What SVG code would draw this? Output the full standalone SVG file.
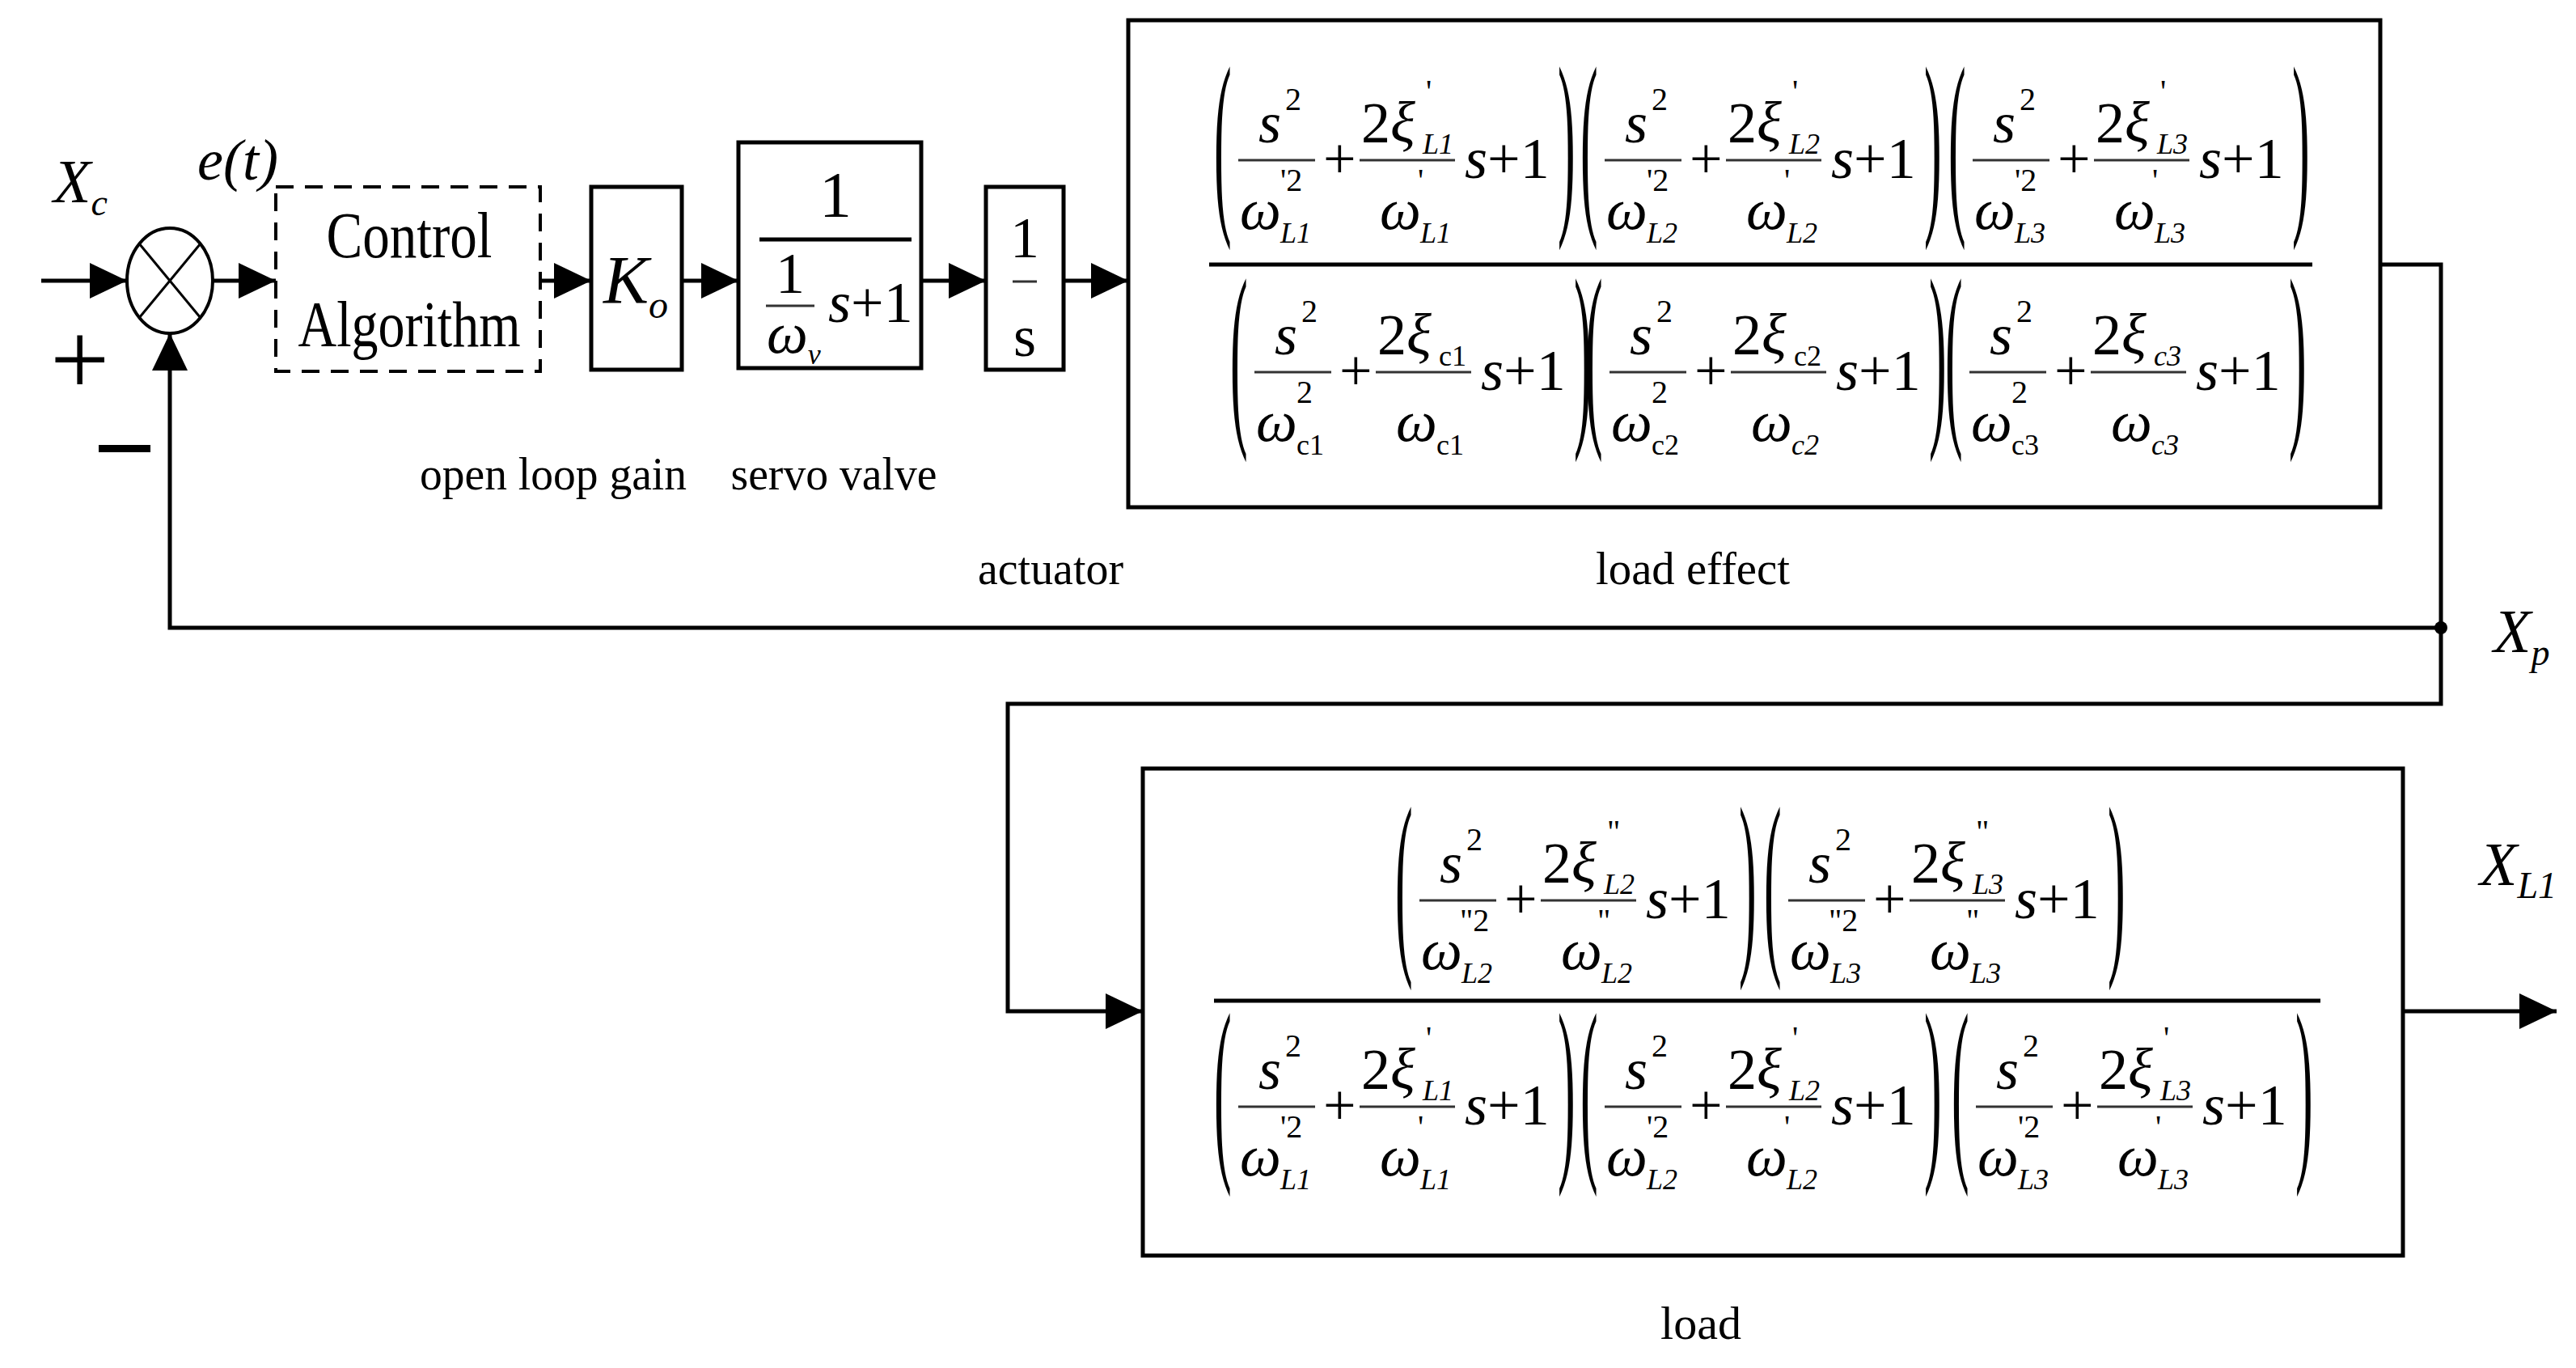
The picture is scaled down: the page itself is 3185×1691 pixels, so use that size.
<svg xmlns="http://www.w3.org/2000/svg" xmlns:xlink="http://www.w3.org/1999/xlink" width="3185" height="1691" viewBox="0 0 3185 1691">
<style>
text{font-family:"Liberation Serif","Times New Roman",serif;fill:#000}
.i{font-style:italic;font-size:72px}
.u{font-size:72px}
.sup{font-size:40px}
.sb{font-size:36px;font-style:italic}
.sbu{font-size:36px}
.lbl{font-size:56px}
.box{fill:#fff;stroke:#000;stroke-width:5}
.ln{fill:none;stroke:#000;stroke-width:5}
.fl{stroke:#333;stroke-width:3}
.big{stroke:#000;stroke-width:5}
</style>
<defs>
<marker id="ah" markerUnits="userSpaceOnUse" markerWidth="48" markerHeight="44" refX="46" refY="22" orient="auto"><path d="M0,0 L46,22 L0,44 Z" fill="#000"/></marker>
<g id="paren"><text transform="scale(0.26,1)" x="0" y="58" style="font-size:250px">(</text></g>
<g id="rparen"><text transform="scale(0.26,1)" x="0" y="58" style="font-size:250px">)</text></g>
</defs>
<rect width="3185" height="1691" fill="#fff"/>

<g id="connectors">
<line class="ln" x1="51" y1="347" x2="157" y2="347" marker-end="url(#ah)"/>
<line class="ln" x1="263" y1="347" x2="341" y2="347" marker-end="url(#ah)"/>
<line class="ln" x1="668" y1="347" x2="731" y2="347" marker-end="url(#ah)"/>
<line class="ln" x1="843" y1="347" x2="913" y2="347" marker-end="url(#ah)"/>
<line class="ln" x1="1139" y1="347" x2="1219" y2="347" marker-end="url(#ah)"/>
<line class="ln" x1="1315" y1="347" x2="1395" y2="347" marker-end="url(#ah)"/>
<polyline class="ln" points="2943,327 3018,327 3018,870 1246,870 1246,1250 1413,1250" marker-end="url(#ah)"/>
<polyline class="ln" points="3018,776 210,776 210,412" marker-end="url(#ah)"/>
<circle cx="3018" cy="776" r="8" fill="#000"/>
<line class="ln" x1="2971" y1="1250" x2="3161" y2="1250" marker-end="url(#ah)"/>
</g>

<g id="sum">
<ellipse cx="210" cy="347" rx="53" ry="65" fill="#fff" stroke="#000" stroke-width="4"/>
<line x1="172" y1="301" x2="248" y2="393" stroke="#000" stroke-width="3"/>
<line x1="248" y1="301" x2="172" y2="393" stroke="#000" stroke-width="3"/>
</g>
<g id="labels-in">
<text class="i" x="66" y="250" style="font-size:76px">X<tspan class="sb" style="font-size:46px" dy="16">c</tspan></text>
<text class="i" x="244" y="222" style="font-size:72px">e(t)</text>
<text x="62" y="488" style="font-size:130px">+</text>
<rect x="122" y="550" width="64" height="9" fill="#000"/>
</g>

<g id="control">
<rect x="341" y="231" width="327" height="228" fill="#fff" stroke="#000" stroke-width="4" stroke-dasharray="22,14"/>
<text x="506" y="318" text-anchor="middle" style="font-size:80px" textLength="205" lengthAdjust="spacingAndGlyphs">Control</text>
<text x="506" y="428" text-anchor="middle" style="font-size:80px" textLength="275" lengthAdjust="spacingAndGlyphs">Algorithm</text>
</g>
<g id="gain">
<rect class="box" x="731" y="231" width="112" height="226"/>
<text class="i" x="746" y="375" style="font-size:84px">K<tspan class="sb" style="font-size:48px" dy="18">o</tspan></text>
</g>
<g id="servo">
<rect class="box" x="913" y="176" width="226" height="279"/>
<text class="u" x="1033" y="268" text-anchor="middle" style="font-size:80px">1</text>
<line class="big" x1="939" y1="296" x2="1127" y2="296"/>
<text class="u" x="977" y="362" text-anchor="middle">1</text>
<line class="fl" x1="947" y1="378" x2="1007" y2="378"/>
<text class="i" x="948" y="436">ω<tspan class="sb" dy="14">v</tspan></text>
<text class="i" x="1024" y="398">s<tspan font-style="normal">+1</tspan></text>
</g>
<g id="integrator">
<rect class="box" x="1219" y="231" width="96" height="226"/>
<text class="u" x="1267" y="318" text-anchor="middle">1</text>
<line class="fl" x1="1252" y1="348" x2="1282" y2="348"/>
<text class="u" x="1267" y="440" text-anchor="middle">s</text>
</g>

<g id="load-effect">
<rect class="box" x="1395" y="25" width="1548" height="602"/>
<line class="big" x1="1495" y1="327" x2="2859" y2="327"/>
<g transform="translate(1501,198)">
<use xlink:href="#paren"/>
<text class="i" x="55" y="-22">s</text><text class="sup" x="88" y="-62">2</text>
<line class="fl" x1="30" y1="0" x2="125" y2="0"/>
<text class="i" x="32" y="85">ω</text><text class="sup" x="82" y="38">'2</text><text class="sb" x="82" y="102">L1</text>
<text class="u" x="135" y="22">+</text>
<text class="u" x="182" y="-22">2<tspan font-style="italic">ξ</tspan></text><text class="sup" x="262" y="-72">'</text><text class="sb" x="258" y="-8">L1</text>
<line class="fl" x1="180" y1="0" x2="298" y2="0"/>
<text class="i" x="205" y="85">ω</text><text class="sup" x="252" y="38">'</text><text class="sb" x="255" y="102">L1</text>
<text class="i" x="310" y="22">s<tspan font-style="normal">+1</tspan></text>
<use xlink:href="#rparen" x="425"/>
</g>
<g transform="translate(1954,198)">
<use xlink:href="#paren"/>
<text class="i" x="55" y="-22">s</text><text class="sup" x="88" y="-62">2</text>
<line class="fl" x1="30" y1="0" x2="125" y2="0"/>
<text class="i" x="32" y="85">ω</text><text class="sup" x="82" y="38">'2</text><text class="sb" x="82" y="102">L2</text>
<text class="u" x="135" y="22">+</text>
<text class="u" x="182" y="-22">2<tspan font-style="italic">ξ</tspan></text><text class="sup" x="262" y="-72">'</text><text class="sb" x="258" y="-8">L2</text>
<line class="fl" x1="180" y1="0" x2="298" y2="0"/>
<text class="i" x="205" y="85">ω</text><text class="sup" x="252" y="38">'</text><text class="sb" x="255" y="102">L2</text>
<text class="i" x="310" y="22">s<tspan font-style="normal">+1</tspan></text>
<use xlink:href="#rparen" x="425"/>
</g>
<g transform="translate(2409,198)">
<use xlink:href="#paren"/>
<text class="i" x="55" y="-22">s</text><text class="sup" x="88" y="-62">2</text>
<line class="fl" x1="30" y1="0" x2="125" y2="0"/>
<text class="i" x="32" y="85">ω</text><text class="sup" x="82" y="38">'2</text><text class="sb" x="82" y="102">L3</text>
<text class="u" x="135" y="22">+</text>
<text class="u" x="182" y="-22">2<tspan font-style="italic">ξ</tspan></text><text class="sup" x="262" y="-72">'</text><text class="sb" x="258" y="-8">L3</text>
<line class="fl" x1="180" y1="0" x2="298" y2="0"/>
<text class="i" x="205" y="85">ω</text><text class="sup" x="252" y="38">'</text><text class="sb" x="255" y="102">L3</text>
<text class="i" x="310" y="22">s<tspan font-style="normal">+1</tspan></text>
<use xlink:href="#rparen" x="425"/>
</g>
<g transform="translate(1521,460)">
<use xlink:href="#paren"/>
<text class="i" x="55" y="-22">s</text><text class="sup" x="88" y="-62">2</text>
<line class="fl" x1="30" y1="0" x2="125" y2="0"/>
<text class="i" x="32" y="85">ω</text><text class="sup" x="82" y="38">2</text><text class="sbu" x="82" y="102">c1</text>
<text class="u" x="135" y="22">+</text>
<text class="u" x="182" y="-22">2<tspan font-style="italic">ξ</tspan></text><text class="sbu" x="258" y="-8">c1</text>
<line class="fl" x1="180" y1="0" x2="298" y2="0"/>
<text class="i" x="205" y="85">ω</text><text class="sbu" x="255" y="102">c1</text>
<text class="i" x="310" y="22">s<tspan font-style="normal">+1</tspan></text>
<use xlink:href="#rparen" x="425"/>
</g>
<g transform="translate(1960,460)">
<use xlink:href="#paren"/>
<text class="i" x="55" y="-22">s</text><text class="sup" x="88" y="-62">2</text>
<line class="fl" x1="30" y1="0" x2="125" y2="0"/>
<text class="i" x="32" y="85">ω</text><text class="sup" x="82" y="38">2</text><text class="sbu" x="82" y="102">c2</text>
<text class="u" x="135" y="22">+</text>
<text class="u" x="182" y="-22">2<tspan font-style="italic">ξ</tspan></text><text class="sbu" x="258" y="-8">c2</text>
<line class="fl" x1="180" y1="0" x2="298" y2="0"/>
<text class="i" x="205" y="85">ω</text><text class="sb" x="255" y="102">c2</text>
<text class="i" x="310" y="22">s<tspan font-style="normal">+1</tspan></text>
<use xlink:href="#rparen" x="425"/>
</g>
<g transform="translate(2405,460)">
<use xlink:href="#paren"/>
<text class="i" x="55" y="-22">s</text><text class="sup" x="88" y="-62">2</text>
<line class="fl" x1="30" y1="0" x2="125" y2="0"/>
<text class="i" x="32" y="85">ω</text><text class="sup" x="82" y="38">2</text><text class="sbu" x="82" y="102">c3</text>
<text class="u" x="135" y="22">+</text>
<text class="u" x="182" y="-22">2<tspan font-style="italic">ξ</tspan></text><text class="sb" x="258" y="-8">c3</text>
<line class="fl" x1="180" y1="0" x2="298" y2="0"/>
<text class="i" x="205" y="85">ω</text><text class="sb" x="255" y="102">c3</text>
<text class="i" x="310" y="22">s<tspan font-style="normal">+1</tspan></text>
<use xlink:href="#rparen" x="425"/>
</g>
</g>

<g id="load">
<rect class="box" x="1413" y="950" width="1558" height="602"/>
<line class="big" x1="1501" y1="1237" x2="2869" y2="1237"/>
<g transform="translate(1725,1113)">
<use xlink:href="#paren"/>
<text class="i" x="55" y="-22">s</text><text class="sup" x="88" y="-62">2</text>
<line class="fl" x1="30" y1="0" x2="125" y2="0"/>
<text class="i" x="32" y="85">ω</text><text class="sup" x="80" y="38">"2</text><text class="sb" x="82" y="102">L2</text>
<text class="u" x="135" y="22">+</text>
<text class="u" x="182" y="-22">2<tspan font-style="italic">ξ</tspan></text><text class="sup" x="262" y="-72">"</text><text class="sb" x="258" y="-8">L2</text>
<line class="fl" x1="180" y1="0" x2="298" y2="0"/>
<text class="i" x="205" y="85">ω</text><text class="sup" x="250" y="38">"</text><text class="sb" x="255" y="102">L2</text>
<text class="i" x="310" y="22">s<tspan font-style="normal">+1</tspan></text>
<use xlink:href="#rparen" x="425"/>
</g>
<g transform="translate(2181,1113)">
<use xlink:href="#paren"/>
<text class="i" x="55" y="-22">s</text><text class="sup" x="88" y="-62">2</text>
<line class="fl" x1="30" y1="0" x2="125" y2="0"/>
<text class="i" x="32" y="85">ω</text><text class="sup" x="80" y="38">"2</text><text class="sb" x="82" y="102">L3</text>
<text class="u" x="135" y="22">+</text>
<text class="u" x="182" y="-22">2<tspan font-style="italic">ξ</tspan></text><text class="sup" x="262" y="-72">"</text><text class="sb" x="258" y="-8">L3</text>
<line class="fl" x1="180" y1="0" x2="298" y2="0"/>
<text class="i" x="205" y="85">ω</text><text class="sup" x="250" y="38">"</text><text class="sb" x="255" y="102">L3</text>
<text class="i" x="310" y="22">s<tspan font-style="normal">+1</tspan></text>
<use xlink:href="#rparen" x="425"/>
</g>
<g transform="translate(1501,1368)">
<use xlink:href="#paren"/>
<text class="i" x="55" y="-22">s</text><text class="sup" x="88" y="-62">2</text>
<line class="fl" x1="30" y1="0" x2="125" y2="0"/>
<text class="i" x="32" y="85">ω</text><text class="sup" x="82" y="38">'2</text><text class="sb" x="82" y="102">L1</text>
<text class="u" x="135" y="22">+</text>
<text class="u" x="182" y="-22">2<tspan font-style="italic">ξ</tspan></text><text class="sup" x="262" y="-72">'</text><text class="sb" x="258" y="-8">L1</text>
<line class="fl" x1="180" y1="0" x2="298" y2="0"/>
<text class="i" x="205" y="85">ω</text><text class="sup" x="252" y="38">'</text><text class="sb" x="255" y="102">L1</text>
<text class="i" x="310" y="22">s<tspan font-style="normal">+1</tspan></text>
<use xlink:href="#rparen" x="425"/>
</g>
<g transform="translate(1954,1368)">
<use xlink:href="#paren"/>
<text class="i" x="55" y="-22">s</text><text class="sup" x="88" y="-62">2</text>
<line class="fl" x1="30" y1="0" x2="125" y2="0"/>
<text class="i" x="32" y="85">ω</text><text class="sup" x="82" y="38">'2</text><text class="sb" x="82" y="102">L2</text>
<text class="u" x="135" y="22">+</text>
<text class="u" x="182" y="-22">2<tspan font-style="italic">ξ</tspan></text><text class="sup" x="262" y="-72">'</text><text class="sb" x="258" y="-8">L2</text>
<line class="fl" x1="180" y1="0" x2="298" y2="0"/>
<text class="i" x="205" y="85">ω</text><text class="sup" x="252" y="38">'</text><text class="sb" x="255" y="102">L2</text>
<text class="i" x="310" y="22">s<tspan font-style="normal">+1</tspan></text>
<use xlink:href="#rparen" x="425"/>
</g>
<g transform="translate(2413,1368)">
<use xlink:href="#paren"/>
<text class="i" x="55" y="-22">s</text><text class="sup" x="88" y="-62">2</text>
<line class="fl" x1="30" y1="0" x2="125" y2="0"/>
<text class="i" x="32" y="85">ω</text><text class="sup" x="82" y="38">'2</text><text class="sb" x="82" y="102">L3</text>
<text class="u" x="135" y="22">+</text>
<text class="u" x="182" y="-22">2<tspan font-style="italic">ξ</tspan></text><text class="sup" x="262" y="-72">'</text><text class="sb" x="258" y="-8">L3</text>
<line class="fl" x1="180" y1="0" x2="298" y2="0"/>
<text class="i" x="205" y="85">ω</text><text class="sup" x="252" y="38">'</text><text class="sb" x="255" y="102">L3</text>
<text class="i" x="310" y="22">s<tspan font-style="normal">+1</tspan></text>
<use xlink:href="#rparen" x="425"/>
</g>
</g>

<g id="labels">
<text class="lbl" x="684" y="605" text-anchor="middle" textLength="330" lengthAdjust="spacingAndGlyphs">open loop gain</text>
<text class="lbl" x="1031" y="605" text-anchor="middle" textLength="255" lengthAdjust="spacingAndGlyphs">servo valve</text>
<text class="lbl" x="1299" y="722" text-anchor="middle" textLength="180" lengthAdjust="spacingAndGlyphs">actuator</text>
<text class="lbl" x="2093" y="722" text-anchor="middle" textLength="240" lengthAdjust="spacingAndGlyphs">load effect</text>
<text class="lbl" x="2103" y="1655" text-anchor="middle" textLength="100" lengthAdjust="spacingAndGlyphs">load</text>
<text class="i" x="3083" y="806" style="font-size:76px">X<tspan class="sb" style="font-size:46px" dy="16">p</tspan></text>
<text class="i" x="3066" y="1094" style="font-size:76px">X<tspan class="sb" style="font-size:46px" dy="16">L1</tspan></text>
</g>
</svg>
